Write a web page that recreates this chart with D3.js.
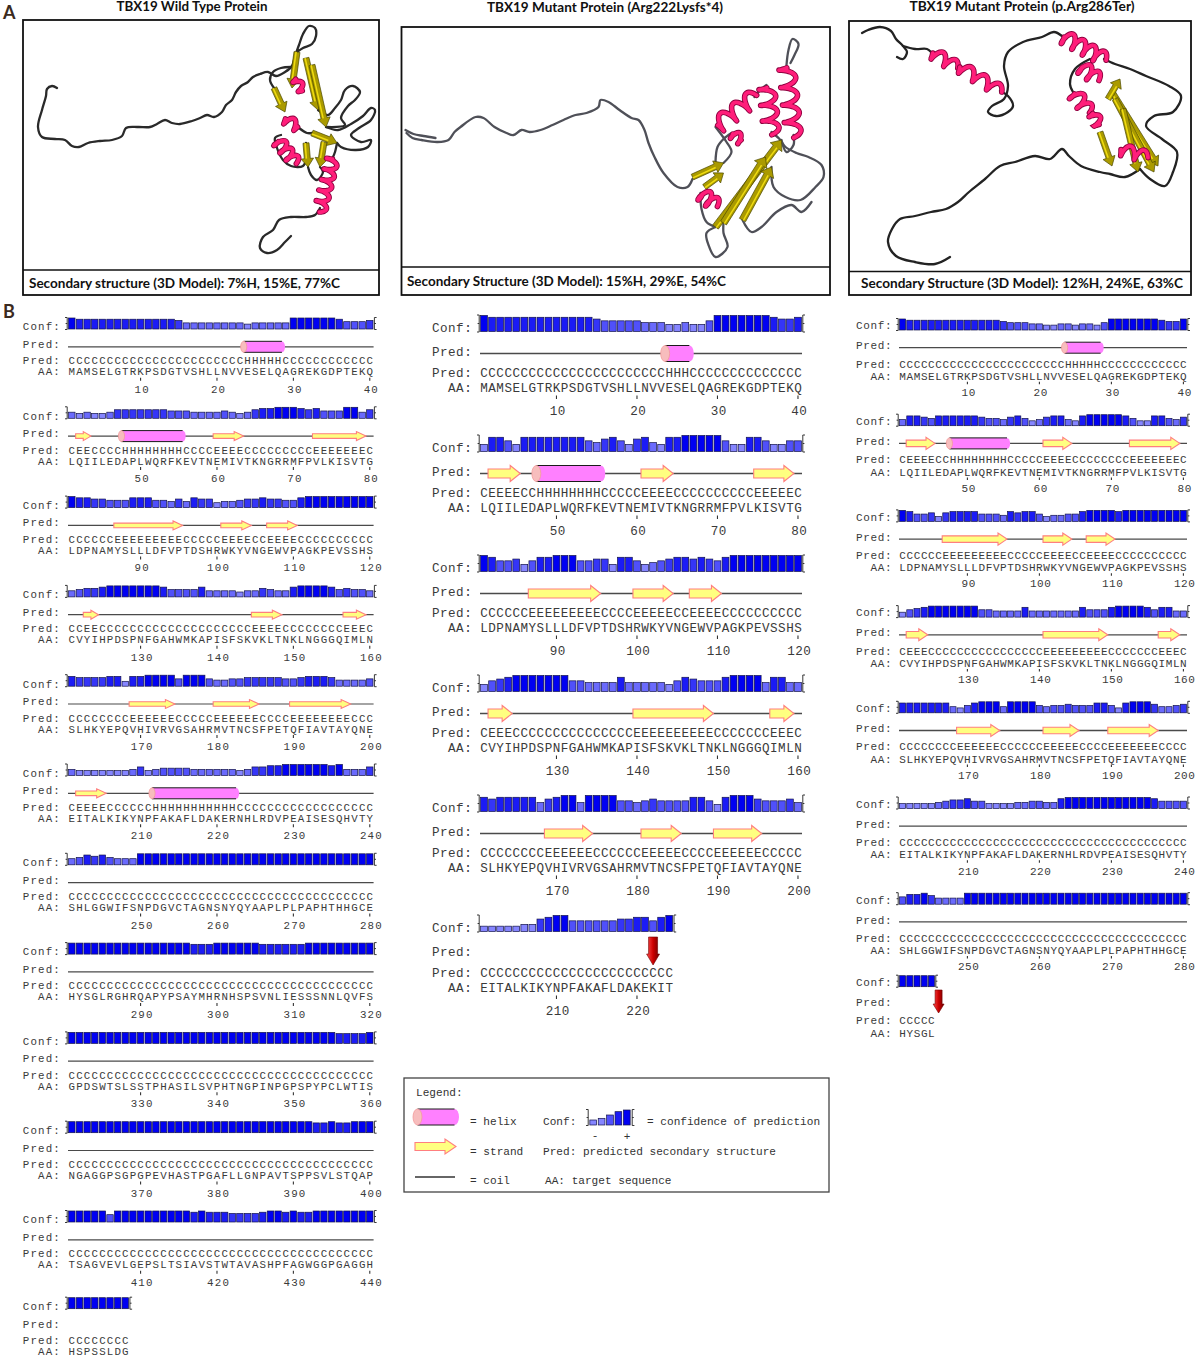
<!DOCTYPE html>
<html>
<head>
<meta charset="utf-8">
<title>TBX19 secondary structure</title>
<script src="https://cdn.jsdelivr.net/npm/d3@7/dist/d3.min.js"></script>
<style>html,body{margin:0;padding:0;background:#fff;}svg{display:block;}</style>
</head>
<body>
<svg id="fig" width="1199" height="1359" xmlns="http://www.w3.org/2000/svg"></svg>
<script>
// ================= DATA =================
// amino-acid sequence blocks (40 residues per row)
const wtAA = [
 "MAMSELGTRKPSDGTVSHLLNVVESELQAGREKGDPTEKQ",
 "LQIILEDAPLWQRFKEVTNEMIVTKNGRRMFPVLKISVTG",
 "LDPNAMYSLLLDFVPTDSHRWKYVNGEWVPAGKPEVSSHS",
 "CVYIHPDSPNFGAHWMKAPISFSKVKLTNKLNGGGQIMLN",
 "SLHKYEPQVHIVRVGSAHRMVTNCSFPETQFIAVTAYQNE",
 "EITALKIKYNPFAKAFLDAKERNHLRDVPEAISESQHVTY",
 "SHLGGWIFSNPDGVCTAGNSNYQYAAPLPLPAPHTHHGCE",
 "HYSGLRGHRQAPYPSAYMHRNHSPSVNLIESSSNNLQVFS",
 "GPDSWTSLSSTPHASILSVPHTNGPINPGPSPYPCLWTIS",
 "NGAGGPSGPGPEVHASTPGAFLLGNPAVTSPPSVLSTQAP",
 "TSAGVEVLGEPSLTSIAVSTWTAVASHPFAGWGGPGAGGH",
 "HSPSSLDG"
];
const m1AA = [wtAA[0], wtAA[1], wtAA[2], wtAA[3], wtAA[4], "EITALKIKYNPFAKAFLDAKEKIT"];
const m2AA = [wtAA[0], wtAA[1], wtAA[2], wtAA[3], wtAA[4], wtAA[5], wtAA[6], "HYSGL"];

// predicted secondary structure (H helix, E strand, C coil)
const wtPred = [
 "CCCCCCCCCC CCCCCCCCCC CCCHHHHHCC CCCCCCCCCC",
 "CEECCCCHHH HHHHHCCCCE EEECCCCCCC CCEEEEEEEC",
 "CCCCCCEEEE EEEEECCCCC EEEECCEEEE CCCCCCCCCC",
 "CCEECCCCCC CCCCCCCCCC CCCCEEEECC CCCCCCEEEC",
 "CCCCCCCCEE EEEECCCCCE EEEEECCCCE EEEEEEECCC",
 "CEEEECCCCC CHHHHHHHHH HHCCCCCCCC CCCCCCCCCC",
 "CCCCCCCCCC CCCCCCCCCC CCCCCCCCCC CCCCCCCCCC",
 "CCCCCCCCCC CCCCCCCCCC CCCCCCCCCC CCCCCCCCCC",
 "CCCCCCCCCC CCCCCCCCCC CCCCCCCCCC CCCCCCCCCC",
 "CCCCCCCCCC CCCCCCCCCC CCCCCCCCCC CCCCCCCCCC",
 "CCCCCCCCCC CCCCCCCCCC CCCCCCCCCC CCCCCCCCCC",
 "CCCCCCCC"
];
const m1Pred = [
 "CCCCCCCCCC CCCCCCCCCC CCCHHHCCCC CCCCCCCCCC",
 "CEEEECCHHH HHHHHCCCCC EEEECCCCCC CCCCEEEEEC",
 "CCCCCCEEEE EEEEECCCCE EEEECCEEEE CCCCCCCCCC",
 "CEEECCCCCC CCCCCCCCCE EEEEEEEEEC CCCCCCEEEC",
 "CCCCCCCCEE EEEECCCCCC EEEEECCCCE EEEEECCCCC",
 "CCCCCCCCCC CCCCCCCCCC CCCC"
];
const m2Pred = [
 "CCCCCCCCCC CCCCCCCCCC CCCHHHHHCC CCCCCCCCCC",
 "CEEEECCHHH HHHHHCCCCC EEEECCCCCC CCEEEEEEEC",
 "CCCCCCEEEE EEEEECCCCC EEEECCEEEE CCCCCCCCCC",
 "CEEECCCCCC CCCCCCCCCC EEEEEEEEEC CCCCCCEEEC",
 "CCCCCCCCEE EEEECCCCCC EEEEECCCCE EEEEEECCCC",
 "CCCCCCCCCC CCCCCCCCCC CCCCCCCCCC CCCCCCCCCC",
 "CCCCCCCCCC CCCCCCCCCC CCCCCCCCCC CCCCCCCCCC",
 "CCCCC"
];

// confidence of prediction (0-9) per residue
const wtConf = [
 "9888888888 8888755555 5554555559 9999986667",
 "5454457777 7776665555 6545788999 8786669957",
 "9887766688 8665758774 5567787766 8999999999",
 "5677899999 9986666855 5545576558 9999867665",
 "8777788488 9999699965 5667777766 7888755556",
 "5444444457 4566665555 5545778899 9999895557",
 "5687865559 9999999999 9999999999 9999999999",
 "9999999999 9999998889 9999988888 8999999999",
 "9999999999 9999999999 9999999999 9999988889",
 "9999999999 9999999999 9999999999 9988988999",
 "9999969999 9999998988 8777789989 8899999999",
 "99999999"
];
const m1Conf = [
 "9888888888 8888766666 5554454469 9999998778",
 "4886488888 8886578647 8548899999 6448864466",
 "9866746889 9966774886 4567887876 8999999999",
 "4678999999 9665555855 5554687666 8999958855",
 "8788888578 9959999665 6766668864 8999766675",
 "3333344789 9666666778 8689"
];
const m2Conf = [
 "9888888888 8888766655 4455455469 9999998779",
 "5887688888 8766578645 7885489999 9864488657",
 "9866747888 8666587886 4556689999 8999999999",
 "4678999999 9665555855 5555586668 9999868855",
 "8888888546 8999599996 5667666886 4899975567",
 "4444456778 6644445566 5589999999 9999986666",
 "6889755559 9999999999 9999999999 9999999999",
 "99999"
];

// residue-number tick labels
const wtTicks = [10,20,30,40,50,60,70,80,90,100,110,120,130,140,150,160,170,180,190,200,210,220,230,240,250,260,270,280,290,300,310,320,330,340,350,360,370,380,390,400,410,420,430,440];
const m1Ticks = [10,20,30,40,50,60,70,80,90,100,110,120,130,140,150,160,170,180,190,200,210,220];
const m2Ticks = [10,20,30,40,50,60,70,80,90,100,110,120,130,140,150,160,170,180,190,200,210,220,230,240,250,260,270,280];

// mutation positions (red arrows)
const m1Stop = 222;
const m2Stop = 286;

// legend confidence samples
const legendConf = [3, 4, 6, 8, 9];

// panel titles and captions
const titles = ["TBX19 Wild Type Protein", "TBX19 Mutant Protein (Arg222Lysfs*4)", "TBX19 Mutant Protein (p.Arg286Ter)"];
const captions = ["Secondary structure (3D Model): 7%H, 15%E, 77%C",
                  "Secondary Structure (3D Model): 15%H, 29%E, 54%C",
                  "Secondary Structure (3D Model): 12%H, 24%E, 63%C"];

// 3D cartoon traces (estimated, box-local units)
const wtCoil = [
 [[34,68],[29,66],[24,69],[23,76],[19,90],[15,107],[19,117],[32,119],[42,120],[49,126],[56,127],[65,123],[77,121],[89,120],[99,116],[103,108],[115,107],[127,107],[134,104],[142,100],[149,103],[157,104],[169,101],[177,98],[184,95],[191,97],[199,92],[203,85],[209,80],[213,72],[218,66],[225,62],[230,57],[237,54],[245,52],[253,56],[262,52],[269,46],[272,36],[276,25],[280,14],[286,6],[292,8],[293,16],[289,24],[280,28],[274,32]],
 [[251,68],[247,60],[250,52],[258,48],[268,47]],
 [[295,90],[305,95],[312,88],[318,80],[322,70],[330,66],[337,72],[332,80],[325,86],[318,98],[322,105],[303,107]],
 [[303,107],[315,110],[328,104],[340,96],[348,88],[352,90],[348,100],[336,108],[328,115],[338,122],[348,120],[345,127],[333,130],[318,127],[314,123]],
 [[285,147],[288,155],[294,160],[300,152],[297,147]],
 [[297,188],[292,195],[283,197],[268,197],[256,200],[250,210],[240,217],[237,228],[244,233],[254,230],[262,222],[268,216]],
 [[276,108],[284,113],[289,113]],
 [[258,115],[252,118],[254,128],[260,140],[268,146],[280,146],[283,140],[283,123]],
 [[314,123],[312,132],[310,137]]
];
const wtHelix = [[261,98,276,108,1.5,5],[254,120,272,142,3,6],[310,137,297,190,5,6],[272,58,280,72,1.5,4]];
const wtStrand = [[274,32,269,68],[283,38,295,90],[251,68,262,92],[289,45,303,107],[283,123,285,147],[301,122,297,147],[289,113,314,123]];

const m1Coil = [
 [[5,106],[11,111],[20,113],[36,115],[47,113],[53,105],[59,100],[74,90],[82,91],[93,100],[105,106],[112,108],[120,103],[128,105],[139,103],[151,98],[162,93],[174,88],[185,86],[197,80],[199,73],[207,75],[218,83],[230,91],[237,93],[243,103],[247,116],[253,130],[262,146],[276,160],[286,160],[291,152]],
 [[4,103],[12,107],[22,109],[34,111]],
 [[322,136],[330,125],[325,115],[314,100]],
 [[353,70],[360,62],[365,58]],
 [[370,105],[378,112],[384,120],[395,126],[407,130],[420,138],[422,150],[414,160],[399,173],[384,170],[372,160],[370,140]],
 [[392,108],[392,118],[385,125],[380,113]],
 [[385,38],[387,23],[391,12],[397,17],[393,28],[389,36]],
 [[314,200],[305,206],[307,218],[314,230],[326,220],[322,206],[322,196]],
 [[341,193],[350,205],[360,200],[375,185],[390,178],[400,185],[410,175]],
 [[330,106],[322,112],[316,120],[314,135]],
 [[299,166],[300,182],[305,195],[314,200]]
];
const m1Helix = [[314,100,353,70,3,8],[365,58,370,105,3,8],[385,38,392,108,4,8],[330,106,341,114,1.5,5],[299,166,314,178,2,7]];
const m1Strand = [[291,150,322,136],[314,200,380,113,3.5],[322,196,364,130,3.5],[341,193,370,140,3.5],[303,160,322,146]];

const m2Coil = [
 [[13,12],[19,9],[31,6],[42,10],[47,18],[54,25],[58,31],[54,38],[48,36]],
 [[54,25],[66,28],[78,28],[82,31]],
 [[151,70],[159,75],[164,85],[159,91],[147,95],[139,91],[143,85],[155,78],[159,65],[155,45],[159,31],[174,21],[193,16],[205,11],[213,15]],
 [[255,38],[266,43],[281,48],[297,55],[320,65],[332,75],[324,91],[305,95],[297,105],[313,118],[328,131],[324,151],[316,165],[301,158],[291,148]],
 [[241,38],[226,48],[221,63],[224,71]],
 [[291,148],[276,156],[261,153],[251,151],[232,145],[220,135],[213,128],[201,138],[186,135],[166,141],[151,145],[136,158],[120,171],[109,181],[97,188],[82,191],[66,195],[51,198],[43,208],[39,221],[47,235],[66,241],[86,243],[101,236]]
];
const m2Helix = [[82,31,107,46,2,6],[109,45,151,70,3,6],[213,15,255,38,4,7],[231,45,248,58,2,7],[224,71,239,90,2,7],[243,91,251,105,1.5,5],[270,128,297,136,2,6]];
const m2Strand = [[251,111,263,145],[263,71,309,145],[266,78,305,151],[274,88,289,151],[259,78,271,58]];

// ================= DRAWING =================
const svg = d3.select("#fig");
const MONO = "'Liberation Mono','DejaVu Sans Mono',monospace";
const SANS = "Lato,'Open Sans','Liberation Sans',sans-serif";

const defs = svg.append("defs");
const grad = defs.append("linearGradient").attr("id", "redArrow").attr("x1", 0).attr("x2", 1).attr("y1", 0).attr("y2", 0);
grad.append("stop").attr("offset", "0").attr("stop-color", "#ff4d4d");
grad.append("stop").attr("offset", "0.5").attr("stop-color", "#cc0000");
grad.append("stop").attr("offset", "1").attr("stop-color", "#6a0000");

// panel letters
svg.append("text").attr("x", 3).attr("y", 19).attr("font-family", SANS).attr("font-weight", 700)
  .attr("font-size", 18).attr("fill", "#3b2a20").text("A");
svg.append("text").attr("x", 3).attr("y", 318).attr("font-family", SANS).attr("font-weight", 700)
  .attr("font-size", 18).attr("fill", "#3b2a20").text("B");

// ---------- Panel A ----------
const boxes = [
  {x: 23, y: 20, w: 356, h: 275, div: 270, tx: 192, ty: 11, tl: 151, cx: 29, cy: 288, cl: 311},
  {x: 401.5, y: 27, w: 428.5, h: 268, div: 267, tx: 605, ty: 12, tl: 236, cx: 407, cy: 286, cl: 319},
  {x: 849, y: 21, w: 342, h: 274, div: 271.5, tx: 1022, ty: 11, tl: 225, cx: 861, cy: 288, cl: 322}
];
const models = [
  {coil: wtCoil, helix: wtHelix, strand: wtStrand, color: "#2a2a2a"},
  {coil: m1Coil, helix: m1Helix, strand: m1Strand, color: "#4f5058"},
  {coil: m2Coil, helix: m2Helix, strand: m2Strand, color: "#232323"}
];

boxes.forEach((bx, k) => {
  const g = svg.append("g");
  const sx = d3.scaleLinear().domain([0, bx.w]).range([bx.x, bx.x + bx.w]);
  const sy = d3.scaleLinear().domain([0, bx.h]).range([bx.y, bx.y + bx.h]);
  const curve = d3.line().x(d => sx(d[0])).y(d => sy(d[1])).curve(d3.curveCatmullRom.alpha(0.5));
  const poly = d3.line().x(d => sx(d[0])).y(d => sy(d[1]));
  const m = models[k];

  m.coil.forEach(seg => {
    g.append("path").attr("d", curve(seg)).attr("fill", "none").attr("stroke", m.color)
      .attr("stroke-width", 2.3).attr("stroke-linecap", "round").attr("stroke-linejoin", "round");
  });
  m.strand.forEach(s => {
    const [x1, y1, x2, y2] = s; const w = s[4] || 3;
    const dx = x2 - x1, dy = y2 - y1, L = Math.hypot(dx, dy), ux = dx / L, uy = dy / L, nx = -uy, ny = ux;
    const hl = Math.min(9, L * 0.35), hw = w * 2.1;
    const bxp = x2 - ux * hl, byp = y2 - uy * hl;
    const pts = [[x1 + nx * w, y1 + ny * w], [bxp + nx * w, byp + ny * w], [bxp + nx * hw, byp + ny * hw], [x2, y2],
                 [bxp - nx * hw, byp - ny * hw], [bxp - nx * w, byp - ny * w], [x1 - nx * w, y1 - ny * w]];
    g.append("path").attr("d", poly(pts) + "Z").attr("fill", "#aa9a00").attr("stroke", "#4a4700").attr("stroke-width", 0.7);
    g.append("path").attr("d", poly([[x1 + nx * w * 0.3, y1 + ny * w * 0.3], [bxp + nx * w * 0.3, byp + ny * w * 0.3]]))
      .attr("stroke", "#f0dc10").attr("stroke-width", 1.5).attr("fill", "none");
  });
  m.helix.forEach(h => {
    const [x1, y1, x2, y2, turns, r] = h;
    const dx = x2 - x1, dy = y2 - y1, L = Math.hypot(dx, dy), ux = dx / L, uy = dy / L, nx = -uy, ny = ux;
    const N = Math.max(14, Math.round(turns * 16));
    const pts = d3.range(N + 1).map(j => {
      const t = j / N, a = 2 * Math.PI * turns * t;
      const s = Math.sin(a) * r, c = Math.cos(a) * r * 0.35;
      return [x1 + dx * t + nx * s + ux * c, y1 + dy * t + ny * s + uy * c];
    });
    g.append("path").attr("d", curve(pts)).attr("fill", "none").attr("stroke", "#8e003f").attr("stroke-width", 5.6).attr("stroke-linecap", "round");
    g.append("path").attr("d", curve(pts)).attr("fill", "none").attr("stroke", "#ff1e7a").attr("stroke-width", 3.8).attr("stroke-linecap", "round");
  });

  g.append("rect").attr("x", bx.x).attr("y", bx.y).attr("width", bx.w).attr("height", bx.h)
    .attr("fill", "none").attr("stroke", "#111").attr("stroke-width", 1.8);
  g.append("line").attr("x1", bx.x).attr("x2", bx.x + bx.w).attr("y1", bx.div).attr("y2", bx.div)
    .attr("stroke", "#111").attr("stroke-width", 1.6);
  g.append("text").attr("x", bx.tx).attr("y", bx.ty).attr("text-anchor", "middle").attr("font-family", SANS)
    .attr("font-weight", 700).attr("font-size", 12.5).attr("textLength", bx.tl).attr("lengthAdjust", "spacingAndGlyphs")
    .attr("fill", "#111").text(titles[k]);
  g.append("text").attr("x", bx.cx).attr("y", bx.cy).attr("font-family", SANS)
    .attr("font-weight", 700).attr("font-size", 12.5).attr("textLength", bx.cl).attr("lengthAdjust", "spacingAndGlyphs")
    .attr("fill", "#111").text(captions[k]);
});

// ---------- Panel B ----------
function runs(p) {
  const out = []; let i = 0;
  while (i < p.length) {
    let j = i; while (j + 1 < p.length && p[j + 1] === p[i]) j++;
    if (p[i] !== "C") out.push({t: p[i], s: i, e: j});
    i = j + 1;
  }
  return out;
}

const hScaleFor = cfg => d3.scaleLinear().domain([0, 9]).range([0, cfg.barH]);
const confColor = d3.scaleLinear().domain([4, 9]).range(["#8585ff", "#0000f2"]).clamp(true);

function drawHelix(g, x1, x2, y, h) {
  const rx = h * 0.28;
  g.append("ellipse").attr("cx", x2).attr("cy", y).attr("rx", rx).attr("ry", h / 2).attr("fill", "#ff80ff");
  g.append("rect").attr("x", x1).attr("y", y - h / 2).attr("width", x2 - x1).attr("height", h).attr("fill", "#ff80ff");
  g.append("path").attr("d", `M${x1},${y - h / 2}H${x2}M${x1},${y + h / 2}H${x2}`).attr("stroke", "#1a1a1a").attr("stroke-width", 1).attr("fill", "none");
  g.append("ellipse").attr("cx", x1).attr("cy", y).attr("rx", rx).attr("ry", h / 2).attr("fill", "#f7bdbd").attr("stroke", "#f29b9b").attr("stroke-width", 0.8);
}
function drawStrand(g, x1, x2, y, hh, bh, hlMax) {
  const hl = Math.min(hlMax, (x2 - x1) * 0.5);
  const pts = [[x1, y - bh / 2], [x2 - hl, y - bh / 2], [x2 - hl, y - hh / 2], [x2, y], [x2 - hl, y + hh / 2], [x2 - hl, y + bh / 2], [x1, y + bh / 2]];
  g.append("polygon").attr("points", pts.map(p => p.join(",")).join(" "))
    .attr("fill", "#ffff80").attr("stroke", "#ff7f7f").attr("stroke-width", 1.1);
}

function drawColumn(cfg, aa, pred, conf, ticks, stop) {
  const g = svg.append("g").attr("font-family", MONO).attr("fill", "#3a3a3a");
  const hS = hScaleFor(cfg);
  aa.forEach((seq, b) => {
    const last = b === aa.length - 1;
    const B = (cfg.lastB && last) ? cfg.lastB : cfg.B0 + b * cfg.step;
    const n = seq.length;
    const ps = pred[b].replace(/ /g, "");
    const cf = conf[b].replace(/ /g, "").split("").map(Number);
    const x = d3.scaleBand().domain(d3.range(40)).range([cfg.x0, cfg.x0 + 40 * cfg.cw]).paddingInner(0.16).paddingOuter(0.08);
    const bw = x.bandwidth(), st = x.step();
    const cx = i => x(0) + bw / 2 + i * st;      // slot centre (also for slots left of the sequence)
    const sl = i => x(i) - st * 0.08;
    const sr = i => x(i) + bw + st * 0.08;
    const mono = (str, c0) => d3.range(str.length).map(j => (c0 + j * st).toFixed(2)).join(" ");

    // row labels, monospaced in the slots left of the sequence
    [["Conf:", 0], ["Pred:", cfg.predLblDy], ["Pred:", cfg.predDy], ["AA:", cfg.aaDy]].forEach(([t, dy]) => {
      g.append("text").attr("x", mono(t, cx(-1 - t.length))).attr("y", B + dy).attr("font-size", cfg.fs)
        .attr("text-anchor", "middle").text(t);
    });

    // confidence bars
    const bb = B + cfg.barDy;
    g.append("g").selectAll("rect").data(cf).join("rect")
      .attr("x", (d, i) => x(i)).attr("y", d => bb - hS(d)).attr("width", bw).attr("height", d => hS(d))
      .attr("fill", d => confColor(d)).attr("stroke", "#14144a").attr("stroke-width", 0.7);
    const top = bb - cfg.barH - 0.5, bot = bb + 0.5, xl = sl(0) - 0.8, xr = sr(n - 1) + 0.8, mid = (top + bot) / 2;
    g.append("path").attr("d", `M${xl - 2.2},${top}H${xl}V${bot}H${xl - 2.2}M${xl},${mid}h-1.6`)
      .attr("stroke", "#222").attr("stroke-width", 0.9).attr("fill", "none");
    g.append("path").attr("d", `M${xr + 2.2},${top}H${xr}V${bot}H${xr + 2.2}M${xr},${mid}h1.6`)
      .attr("stroke", "#222").attr("stroke-width", 0.9).attr("fill", "none");

    // prediction cartoon
    const ly = B + cfg.lineDy;
    if (!last) {
      g.append("line").attr("x1", sl(0)).attr("x2", sr(n - 1)).attr("y1", ly).attr("y2", ly)
        .attr("stroke", "#4a4a4a").attr("stroke-width", cfg.lw);
    }
    runs(ps).forEach(r => {
      const x1 = sl(r.s), x2 = sr(r.e);
      if (r.t === "H") drawHelix(g, x1, x2, ly, cfg.hH);
      else drawStrand(g, x1, x2, ly, cfg.sHead, cfg.sBody, cfg.cw * 1.25);
    });

    // letters
    g.append("text").attr("x", mono(ps, cx(0))).attr("y", B + cfg.predDy).attr("font-size", cfg.fs).attr("text-anchor", "middle").text(ps);
    g.append("text").attr("x", mono(seq, cx(0))).attr("y", B + cfg.aaDy).attr("font-size", cfg.fs).attr("text-anchor", "middle").text(seq);

    // residue numbers
    ticks.filter(t => t > b * 40 && t <= b * 40 + n).forEach(t => {
      const i = t - b * 40 - 1, s = String(t);
      g.append("line").attr("x1", cx(i)).attr("x2", cx(i)).attr("y1", B + cfg.t1).attr("y2", B + cfg.t2)
        .attr("stroke", "#333").attr("stroke-width", 1.1);
      g.append("text").attr("x", mono(s, cx(i) - (s.length - 1) / 2 * st + 1)).attr("y", B + cfg.numDy)
        .attr("font-size", cfg.fs).attr("text-anchor", "middle").text(s);
    });

    // mutation arrow
    if (stop && stop > b * 40 && stop <= b * 40 + 40) {
      const c = cx(stop - b * 40 - 1);
      const y1 = B + cfg.arTop, y2 = B + cfg.arBot, a = cfg.arShaft / 2, w = cfg.arHead / 2, hh = cfg.arHeadH;
      g.append("path").attr("d", `M${c - a},${y1}H${c + a}V${y2 - hh}H${c + w}L${c},${y2}L${c - w},${y2 - hh}H${c - a}Z`)
        .attr("fill", "url(#redArrow)").attr("stroke", "#700000").attr("stroke-width", 0.6);
    }
  });
}

const colL = {x0: 68, cw: 7.64, fs: 10.8, B0: 330.3, step: 89.3, lastB: 1310, barDy: -1.3, barH: 11, predLblDy: 17.5, lineDy: 16.5, lw: 1.2,
              hH: 11, sHead: 9, sBody: 4.6, predDy: 34, aaDy: 45, t1: 47.5, t2: 50.5, numDy: 62.5};
const colM = {x0: 480, cw: 8.05, fs: 12.6, B0: 331.5, step: 120, barDy: 0, barH: 16, predLblDy: 24, lineDy: 22, lw: 1.6,
              hH: 16, sHead: 16, sBody: 9, predDy: 45, aaDy: 60.5, t1: 64, t2: 67.5, numDy: 83.5,
              arTop: 5.5, arBot: 33.5, arShaft: 9, arHead: 13, arHeadH: 11};
const colR = {x0: 899, cw: 7.2, fs: 11, B0: 329.3, step: 95.7, lastB: 986, barDy: 0.7, barH: 11, predLblDy: 20, lineDy: 18.4, lw: 1.3,
              hH: 11, sHead: 12, sBody: 6.5, predDy: 38.3, aaDy: 50.5, t1: 52.5, t2: 55, numDy: 66.7,
              arTop: 4, arBot: 27, arShaft: 7, arHead: 11, arHeadH: 9};

drawColumn(colL, wtAA, wtPred, wtConf, wtTicks, null);
drawColumn(colM, m1AA, m1Pred, m1Conf, m1Ticks, m1Stop);
drawColumn(colR, m2AA, m2Pred, m2Conf, m2Ticks, m2Stop);

// ---------- Legend ----------
const lg = svg.append("g").attr("font-family", MONO).attr("font-size", 11.1).attr("fill", "#333");
lg.append("rect").attr("x", 404).attr("y", 1078).attr("width", 425).attr("height", 114)
  .attr("fill", "#fff").attr("stroke", "#444").attr("stroke-width", 1.3);
lg.append("text").attr("x", 416).attr("y", 1096).text("Legend:");
drawHelix(lg, 417.5, 454.5, 1117, 16);
drawStrand(lg, 415, 456, 1146.5, 15, 8, 11);
lg.append("line").attr("x1", 415).attr("x2", 455).attr("y1", 1177).attr("y2", 1177).attr("stroke", "#333").attr("stroke-width", 1.6);
lg.append("text").attr("x", 470).attr("y", 1125).text("= helix");
lg.append("text").attr("x", 543).attr("y", 1125).text("Conf:");
lg.append("text").attr("x", 647).attr("y", 1125).text("= confidence of prediction");
lg.append("text").attr("x", 595).attr("y", 1139).attr("text-anchor", "middle").text("-");
lg.append("text").attr("x", 627).attr("y", 1140).attr("text-anchor", "middle").text("+");
lg.append("text").attr("x", 470).attr("y", 1155).text("= strand");
lg.append("text").attr("x", 543).attr("y", 1155).text("Pred: predicted secondary structure");
lg.append("text").attr("x", 470).attr("y", 1184).text("= coil");
lg.append("text").attr("x", 545).attr("y", 1184).text("AA: target sequence");
const lx = d3.scaleBand().domain(d3.range(legendConf.length)).range([589, 631]).paddingInner(0.2).paddingOuter(0.1);
const lh = d3.scaleLinear().domain([0, 9]).range([0, 15]);
lg.append("g").selectAll("rect").data(legendConf).join("rect")
  .attr("x", (d, i) => lx(i)).attr("y", d => 1125 - lh(d)).attr("width", lx.bandwidth()).attr("height", d => lh(d))
  .attr("fill", d => confColor(d)).attr("stroke", "#14144a").attr("stroke-width", 0.7);
lg.append("path").attr("d", "M586,1109.5H588.2V1125.5H586M588.2,1117.5h-1.6").attr("stroke", "#222").attr("stroke-width", 0.9).attr("fill", "none");
lg.append("path").attr("d", "M634.4,1109.5H632.2V1125.5H634.4M632.2,1117.5h1.6").attr("stroke", "#222").attr("stroke-width", 0.9).attr("fill", "none");
</script>
</body>
</html>
